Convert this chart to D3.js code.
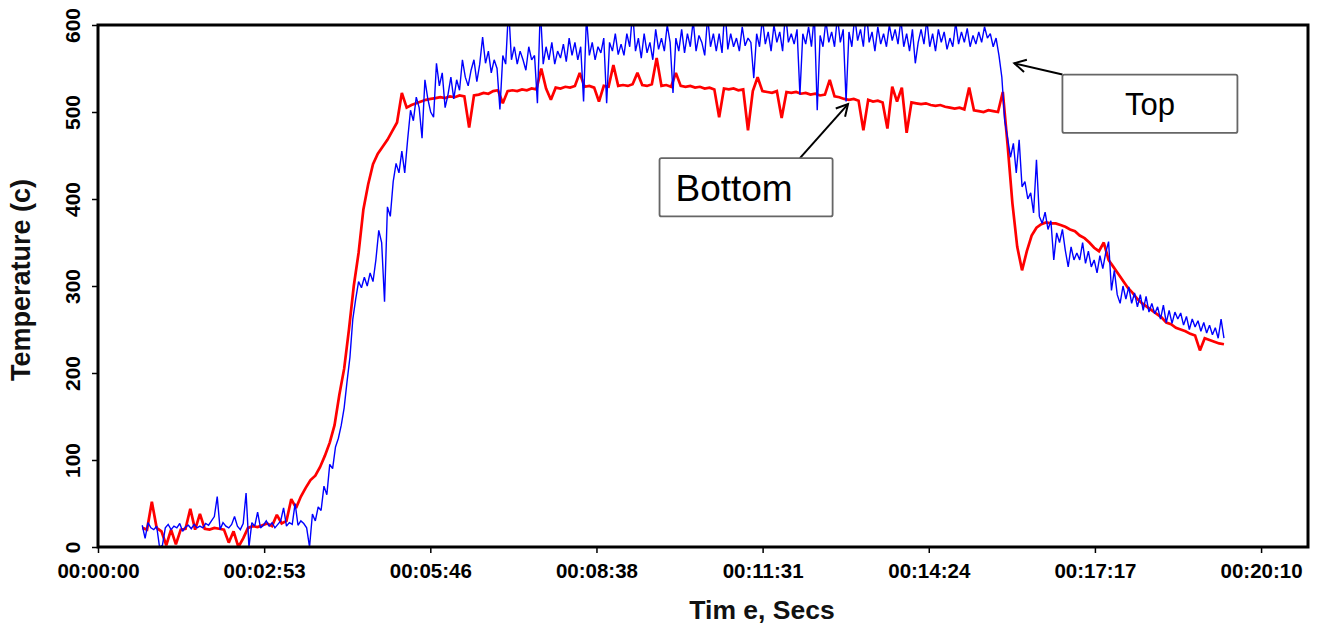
<!DOCTYPE html>
<html>
<head>
<meta charset="utf-8">
<script src="https://cdn.jsdelivr.net/npm/d3@7"></script>
<style>
  html, body { margin: 0; padding: 0; background: #fff; }
  svg { display: block; }
  text { font-family: "Liberation Sans", Arial, sans-serif; }
</style>
</head>
<body>
<svg id="chart" width="1317" height="626"></svg>
<script>
// ---- Data ----
// Logger samples: first sample time and sampling interval of each channel, in seconds
const SAMPLE_START_S = 46;
const BOTTOM_STEP_S = 5;
const TOP_STEP_S = 3;

// Bottom thermocouple (red), deg C, one value every 5 s
const bottomTemp = [
  22,20,52,22,18,2,20,3,20,21,
  44,20,38,21,20,22,21,20,5,18,
  0,10,22,24,23,25,27,24,37,27,
  30,55,45,58,68,77,82,92,105,120,
  140,175,205,250,300,338,388,417,440,452,
  460,468,478,488,522,505,508,510,512,514,
  515,516,517,516,518,517,519,518,482,519,
  520,522,521,524,525,510,524,525,524,526,
  525,527,526,550,527,514,528,527,529,528,
  530,545,529,530,528,512,530,529,554,530,
  531,530,532,545,531,530,532,562,530,531,
  529,545,530,529,530,528,529,527,528,526,
  494,527,526,527,525,526,479,524,540,524,
  523,522,524,493,523,522,523,521,522,520,
  521,519,520,537,518,517,515,514,515,513,
  479,514,512,513,511,481,529,512,528,476,
  511,510,509,510,508,507,508,506,505,504,
  505,503,528,502,501,500,502,501,500,523,
  462,395,345,318,340,358,367,371,373,372,
  372,370,368,365,363,358,355,350,344,340,
  350,330,322,314,306,298,292,285,280,276,
  272,268,264,258,256,252,250,248,245,243,
  226,240,238,236,234,233
];

// Top thermocouple (blue), deg C, one value every 3 s
const topTemp = [
  25,10,28,22,20,24,0,2,22,26,
  20,24,22,27,18,23,25,21,26,22,
  24,22,27,25,30,35,58,20,28,24,
  22,26,35,24,20,27,62,0,28,24,
  40,22,25,30,24,28,22,26,30,45,
  24,28,26,50,25,30,27,22,0,38,
  30,46,42,70,60,95,90,115,125,140,
  160,190,218,262,285,305,298,310,300,315,
  305,330,364,350,282,391,380,420,441,430,
  455,430,468,502,490,517,505,470,537,515,
  500,494,556,530,545,505,520,540,515,537,
  525,560,540,530,548,560,535,555,586,556,
  570,545,560,550,503,565,555,620,560,575,
  555,570,560,548,575,560,565,510,620,555,
  575,560,580,555,570,562,578,558,585,565,
  580,560,575,512,610,565,580,560,575,568,
  585,510,580,570,590,566,578,565,590,575,
  615,570,585,562,590,568,580,560,595,572,
  585,570,600,580,522,585,570,595,568,590,
  575,605,570,588,580,565,610,575,590,570,
  590,568,620,572,590,575,585,570,598,576,
  585,580,539,590,575,608,578,592,570,600,
  580,592,570,615,580,590,578,595,520,590,
  578,598,575,612,502,588,575,605,580,592,
  575,610,580,595,512,592,575,610,582,595,
  575,618,580,592,570,598,578,590,575,600,
  582,595,578,606,575,590,570,595,556,580,
  595,578,606,575,590,570,595,580,592,572,
  585,575,603,578,592,580,596,575,588,578,
  592,580,598,585,590,575,585,565,540,490,
  470,448,464,430,468,414,420,400,407,384,
  445,380,372,385,365,375,330,361,350,365,
  341,322,345,330,338,330,350,326,340,322,
  330,315,335,320,338,351,295,318,290,280,
  300,285,299,280,292,276,290,272,288,270,
  280,268,276,262,278,258,272,257,270,262,
  269,255,265,250,262,253,260,248,258,246,
  255,244,252,240,262,240
];

// Axis ticks
const xTickSeconds = [0, 172.8, 345.6, 518.4, 691.2, 864, 1036.8, 1209.6];
const xTickLabels = ["00:00:00","00:02:53","00:05:46","00:08:38","00:11:31","00:14:24","00:17:17","00:20:10"];
const yTickValues = [0, 100, 200, 300, 400, 500, 600];

// Callouts (box corners and arrow ends in data units: seconds, deg C)
const calloutLabels = ["Top", "Bottom"];
const calloutBoxes = [[1003, 543, 1185, 476], [584, 447, 764, 380]];
const calloutArrowFrom = [[1003, 543], [730, 447]];
const calloutArrowTo = [[953, 556], [780, 509]];
const calloutFontSize = [31, 37];
const calloutTextShift = [0, -12];

// ---- Layout ----
const svg = d3.select("#chart");
const pLeft = 98, pRight = 1308, pTop = 25, pBottom = 547;

const x = d3.scaleLinear().domain([0, 1258.4]).range([pLeft, pRight]);
const y = d3.scaleLinear().domain([0, 600]).range([pBottom, pTop]);

svg.append("defs").append("clipPath").attr("id", "plotclip")
  .append("rect").attr("x", pLeft).attr("y", pTop)
  .attr("width", pRight - pLeft).attr("height", pBottom - pTop);

const lineFor = step => d3.line()
  .x((d, i) => x(SAMPLE_START_S + i * step))
  .y(d => y(d));

const plot = svg.append("g").attr("clip-path", "url(#plotclip)");
plot.append("path").datum(bottomTemp)
  .attr("d", lineFor(BOTTOM_STEP_S)).attr("fill", "none")
  .attr("stroke", "#ff0000").attr("stroke-width", 2.7)
  .attr("stroke-linejoin", "miter").attr("stroke-miterlimit", 2);
plot.append("path").datum(topTemp)
  .attr("d", lineFor(TOP_STEP_S)).attr("fill", "none")
  .attr("stroke", "#0000ff").attr("stroke-width", 1.4)
  .attr("stroke-linejoin", "miter").attr("stroke-miterlimit", 2);

// ---- Axes ----
const xAxis = d3.axisBottom(x).tickValues(xTickSeconds)
  .tickFormat((d, i) => xTickLabels[i]).tickSizeInner(6).tickSizeOuter(0).tickPadding(8);
const gx = svg.append("g").attr("transform", `translate(0,${pBottom})`).call(xAxis);
gx.select(".domain").remove();
gx.selectAll(".tick line").attr("stroke", "#000").attr("stroke-width", 1.5);
gx.selectAll(".tick text").attr("font-size", 20.5).attr("font-weight", "bold")
  .attr("fill", "#000").attr("dy", "0.71em").attr("y", 16);

const yAxis = d3.axisLeft(y).tickValues(yTickValues).tickSizeInner(6).tickSizeOuter(0);
const gy = svg.append("g").attr("transform", `translate(${pLeft},0)`).call(yAxis);
gy.select(".domain").remove();
gy.selectAll(".tick line").attr("stroke", "#000").attr("stroke-width", 1.5);
gy.selectAll(".tick text").remove();
gy.selectAll(".tick").append("text")
  .attr("transform", "translate(-18,0) rotate(-90)")
  .attr("text-anchor", "middle")
  .attr("font-size", 21).attr("font-weight", "bold").attr("fill", "#000")
  .text(d => d);

// Frame
svg.append("rect").attr("x", pLeft).attr("y", pTop)
  .attr("width", pRight - pLeft).attr("height", pBottom - pTop)
  .attr("fill", "none").attr("stroke", "#000").attr("stroke-width", 3);

// Axis titles
svg.append("text").attr("x", 762).attr("y", 619)
  .attr("text-anchor", "middle").attr("font-size", 26.5).attr("font-weight", "bold")
  .attr("fill", "#111").text("Tim e, Secs");
svg.append("text").attr("transform", "translate(30,280) rotate(-90)")
  .attr("text-anchor", "middle").attr("font-size", 27).attr("font-weight", "bold")
  .attr("fill", "#111").text("Temperature (c)");

// ---- Callouts ----
const ann = svg.append("g");
calloutLabels.forEach((lab, k) => {
  const [t0, v0, t1, v1] = calloutBoxes[k];
  const bx = x(t0), by = y(v0), bw = x(t1) - x(t0), bh = y(v1) - y(v0);
  const [fx, fy] = [x(calloutArrowFrom[k][0]), y(calloutArrowFrom[k][1])];
  const [tx, ty] = [x(calloutArrowTo[k][0]), y(calloutArrowTo[k][1])];
  ann.append("line").attr("x1", fx).attr("y1", fy).attr("x2", tx).attr("y2", ty)
    .attr("stroke", "#000").attr("stroke-width", 2);
  const ang = Math.atan2(fy - ty, fx - tx);
  const L = 13, spread = 0.5;
  ann.append("path")
    .attr("d", `M${tx + L * Math.cos(ang + spread)},${ty + L * Math.sin(ang + spread)} L${tx},${ty} L${tx + L * Math.cos(ang - spread)},${ty + L * Math.sin(ang - spread)}`)
    .attr("fill", "none").attr("stroke", "#000").attr("stroke-width", 2);
  ann.append("rect").attr("x", bx).attr("y", by).attr("width", bw).attr("height", bh)
    .attr("rx", 2).attr("fill", "#fff").attr("stroke", "#666").attr("stroke-width", 1.8);
  ann.append("text").attr("x", bx + bw / 2 + calloutTextShift[k]).attr("y", by + bh / 2)
    .attr("dy", "0.36em").attr("text-anchor", "middle")
    .attr("font-size", calloutFontSize[k]).attr("fill", "#000").text(lab);
});
</script>
</body>
</html>
